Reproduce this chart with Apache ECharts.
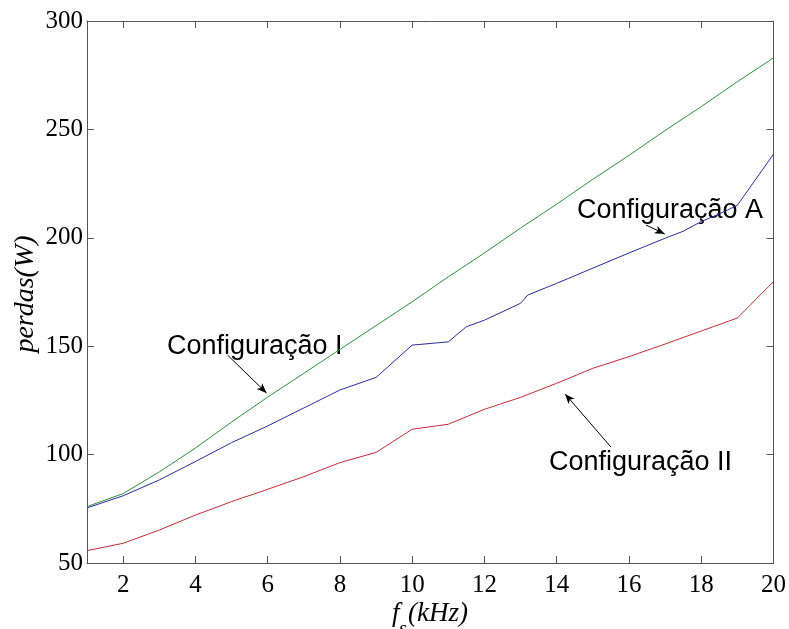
<!DOCTYPE html>
<html>
<head>
<meta charset="utf-8">
<script src="https://cdn.jsdelivr.net/npm/echarts@6/dist/echarts.min.js"></script>
<style>
  html, body { margin: 0; padding: 0; background: #fff; }
  #chart { width: 789px; height: 629px; }
</style>
</head>
<body>
<div id="chart"></div>
<script>
// frequencia de chaveamento (kHz) e perdas (W)
var fsI = [1, 2, 3, 4, 5, 6, 7, 8, 9, 10, 11, 12, 13, 14, 15, 16, 17, 18, 19, 20];
var lossI = [76, 82, 92, 103, 115, 126.5, 137.5, 148.5, 159.5, 170.5, 182, 193, 204.5, 215.5, 227, 238, 249.5, 260.5, 272, 283];

var fsA = [1, 2, 3, 4, 5, 6, 7, 8, 9, 10, 11, 11.5, 12, 13, 13.2, 14, 15, 16, 17, 17.5, 18, 18.5, 19, 20];
var lossA = [75.4, 81, 88.3, 96.8, 105.5, 113.2, 121.5, 129.8, 135.6, 150.5, 152, 159, 162, 169.8, 173.6, 179, 186, 193, 199.8, 203, 207.5, 211, 215, 238.6];

var fsII = [1, 2, 3, 4, 5, 6, 7, 8, 9, 10, 11, 12, 13, 14, 15, 16, 17, 18, 19, 20];
var lossII = [55.7, 59.1, 65.2, 72.1, 78.3, 84, 89.8, 96.3, 101, 111.7, 114, 120.9, 126.4, 132.9, 139.8, 145.2, 151, 157, 163, 179.8];

var xTicks = [2, 4, 6, 8, 10, 12, 14, 16, 18, 20];

// setas das anotacoes, em coordenadas dos dados
var arrowI = [[4.89, 145.9], [5.97, 128.4]];
var arrowA = [[16.47, 205.9], [16.99, 201.8]];
var arrowII = [[15.5, 103.5], [14.23, 128]];

function pairs(xs, ys) {
    var out = [];
    for (var i = 0; i < xs.length; i++) {
        out.push([xs[i], ys[i]]);
    }
    return out;
}

function arrow(a) {
    return [{ coord: a[0] }, { coord: a[1] }];
}

var boxColor = '#555';
var serif = '"Liberation Serif", "Times New Roman", serif';
var sans = '"Liberation Sans", Arial, sans-serif';

var chart = echarts.init(document.getElementById('chart'), null, { renderer: 'canvas' });

var tickStyle = { show: true, inside: true, length: 7, lineStyle: { color: boxColor, width: 1 } };
var lineStyleBox = { show: true, onZero: false, lineStyle: { color: boxColor, width: 1 } };

var option = {
    backgroundColor: '#fff',
    animation: false,
    grid: { left: 87, top: 21, right: 14, bottom: 66, containLabel: false },
    xAxis: [{
        type: 'value',
        min: 1,
        max: 20,
        position: 'bottom',
        axisLine: lineStyleBox,
        axisTick: echarts.util.merge({ customValues: xTicks }, tickStyle),
        axisLabel: {
            customValues: xTicks,
            color: '#000',
            fontFamily: serif,
            fontSize: 25,
            margin: 10
        },
        splitLine: { show: false }
    }, {
        type: 'value',
        min: 1,
        max: 20,
        position: 'top',
        axisLine: lineStyleBox,
        axisTick: echarts.util.merge({ customValues: xTicks }, tickStyle),
        axisLabel: { show: false },
        splitLine: { show: false }
    }],
    yAxis: [{
        type: 'value',
        min: 50,
        max: 300,
        interval: 50,
        position: 'left',
        axisLine: lineStyleBox,
        axisTick: tickStyle,
        axisLabel: {
            color: '#000',
            fontFamily: serif,
            fontSize: 25,
            margin: 4
        },
        splitLine: { show: false }
    }, {
        type: 'value',
        min: 50,
        max: 300,
        interval: 50,
        position: 'right',
        axisLine: lineStyleBox,
        axisTick: tickStyle,
        axisLabel: { show: false },
        splitLine: { show: false }
    }],
    series: [{
        name: 'Configuração I',
        type: 'line',
        data: pairs(fsI, lossI),
        showSymbol: false,
        lineStyle: { color: '#2f8f3f', width: 1 },
        markLine: {
            silent: true,
            symbol: ['none', 'arrow'],
            symbolSize: [6, 10],
            label: { show: false },
            lineStyle: { color: '#000', width: 1, type: 'solid' },
            data: [arrow(arrowI), arrow(arrowA), arrow(arrowII)]
        }
    }, {
        name: 'Configuração A',
        type: 'line',
        data: pairs(fsA, lossA),
        showSymbol: false,
        lineStyle: { color: '#2b2b9c', width: 1 }
    }, {
        name: 'Configuração II',
        type: 'line',
        data: pairs(fsII, lossII),
        showSymbol: false,
        lineStyle: { color: '#c42a3a', width: 1 }
    }],
    graphic: [
        { type: 'text', left: 167, top: 333, style: { text: 'Configuração I', font: '27px ' + sans, fill: '#000' } },
        { type: 'text', left: 577, top: 197, style: { text: 'Configuração A', font: '27px ' + sans, fill: '#000' } },
        { type: 'text', left: 549, top: 449, style: { text: 'Configuração II', font: '27px ' + sans, fill: '#000' } },
        {
            type: 'text', x: 26, y: 294, rotation: Math.PI / 2,
            style: { text: 'perdas(W)', font: 'italic 28px ' + serif, fill: '#000', align: 'center', verticalAlign: 'middle' }
        },
        { type: 'text', x: 392, y: 614, style: { text: 'f', font: 'italic 27px ' + serif, fill: '#000', verticalAlign: 'middle' } },
        { type: 'text', x: 399, y: 630, style: { text: 's', font: 'italic 20px ' + serif, fill: '#000', verticalAlign: 'middle' } },
        { type: 'text', x: 408, y: 614, style: { text: '(kHz)', font: 'italic 27px ' + serif, fill: '#000', verticalAlign: 'middle' } }
    ]
};

chart.setOption(option);
</script>
</body>
</html>
